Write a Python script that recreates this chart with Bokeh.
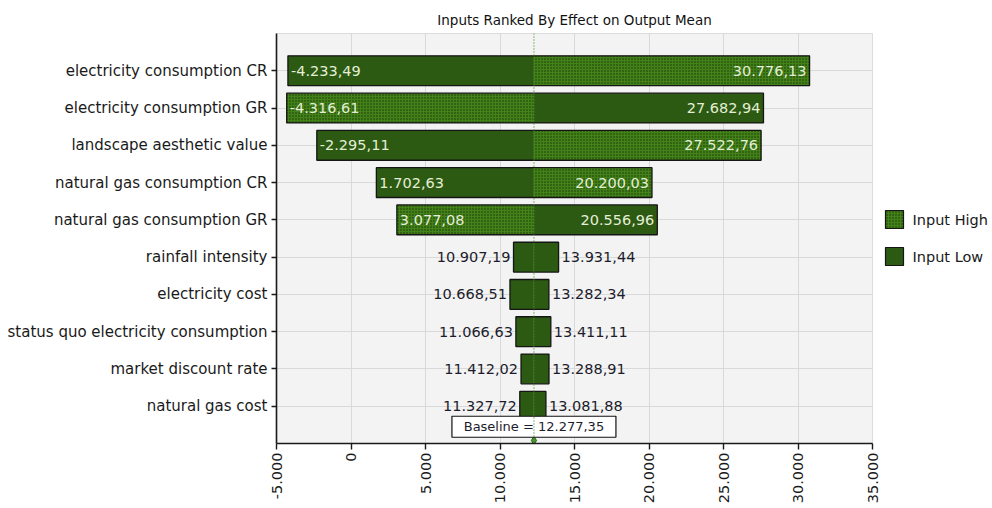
import math
from bokeh.plotting import figure
from bokeh.layouts import row
from bokeh.models import Range1d, FixedTicker, Span, ColumnDataSource
from bokeh.core.properties import value
from bokeh.embed import file_html
from bokeh.resources import INLINE

# ---------------- data ----------------
chart_title = "Inputs Ranked By Effect on Output Mean"
inputs = [
    "electricity consumption CR",
    "electricity consumption GR",
    "landscape aesthetic value",
    "natural gas consumption CR",
    "natural gas consumption GR",
    "rainfall intensity",
    "electricity cost",
    "status quo electricity consumption",
    "market discount rate",
    "natural gas cost",
]
left_values = [-4233.49, -4316.61, -2295.11, 1702.63, 3077.08,
               10907.19, 10668.51, 11066.63, 11412.02, 11327.72]
right_values = [30776.13, 27682.94, 27522.76, 20200.03, 20556.96,
                13931.44, 13282.34, 13411.11, 13288.91, 13081.88]
# which input setting produced each end of the bar
left_series = ["Input Low", "Input High", "Input Low", "Input Low", "Input High",
               "Input Low", "Input Low", "Input Low", "Input Low", "Input Low"]
right_series = ["Input High", "Input Low", "Input High", "Input High", "Input Low",
                "Input Low", "Input Low", "Input Low", "Input Low", "Input Low"]
baseline = 12277.35
x_ticks = [-5000, 0, 5000, 10000, 15000, 20000, 25000, 30000, 35000]
x_tick_labels = ["-5.000", "0", "5.000", "10.000", "15.000", "20.000", "25.000", "30.000", "35.000"]
legend_labels = ["Input High", "Input Low"]

# ---------------- style ----------------
FONT = "DejaVu Sans"
SOLID = "#2c5a12"
HATCH_BG = "#428219"
HATCH_FG = "#16330a"
OUTLINE = "#151515"
BAR_H = 0.8
H = 508
TOP, BOTTOM = 33, 65


def fmt(v):
    s = f"{v:,.2f}"
    return s.replace(",", "X").replace(".", ",").replace("X", ".")


ys = [i + 1 for i in range(len(inputs))]

p = figure(width=882, height=H, output_backend="svg", toolbar_location=None,
           x_range=Range1d(x_ticks[0], x_ticks[-1]),
           y_range=Range1d(len(inputs) + 1, 0),
           min_border_left=276, min_border_right=10, min_border_top=TOP, min_border_bottom=BOTTOM)

p.title.text = chart_title
p.title.align = "center"
p.title.text_font = FONT
p.title.text_font_size = "13.5px"
p.title.text_font_style = "normal"
p.title.text_color = "#111111"
p.title.text_line_height = 1.0
p.title.standoff = 12

p.background_fill_color = "#f3f3f3"
p.border_fill_color = "white"
p.outline_line_color = "#dcdcdc"

# segments
seg = {k: dict(y=[], left=[], right=[]) for k in legend_labels}
for y, lo, hi, ls, rs in zip(ys, left_values, right_values, left_series, right_series):
    seg[ls]["y"].append(y); seg[ls]["left"].append(lo); seg[ls]["right"].append(baseline)
    seg[rs]["y"].append(y); seg[rs]["left"].append(baseline); seg[rs]["right"].append(hi)

hatch_kw = dict(fill_color=HATCH_BG, hatch_pattern="dot", hatch_color=HATCH_FG,
                hatch_scale=3, hatch_weight=1.9)
series_style = {"Input High": hatch_kw, "Input Low": dict(fill_color=SOLID)}
for name in legend_labels:
    p.hbar(source=ColumnDataSource(seg[name]), y="y", left="left", right="right",
           height=BAR_H, line_color=None, **series_style[name])

# baseline dotted line
p.add_layout(Span(location=baseline, dimension="height", line_color="#3f8f1f",
                  line_dash="1 2", line_width=1.2))

# outlines
p.hbar(y=ys, left=left_values, right=right_values, height=BAR_H,
       fill_color=None, line_color=OUTLINE, line_width=1.3)

# value labels
in_l = dict(x=[], y=[], t=[]); in_r = dict(x=[], y=[], t=[])
out_l = dict(x=[], y=[], t=[]); out_r = dict(x=[], y=[], t=[])
for y, lo, hi in zip(ys, left_values, right_values):
    inside = (hi - lo) > 10000
    a = in_l if inside else out_l
    b = in_r if inside else out_r
    a["x"].append(lo); a["y"].append(y); a["t"].append(fmt(lo))
    b["x"].append(hi); b["y"].append(y); b["t"].append(fmt(hi))

tkw = dict(text_font=value(FONT), text_font_size="14.5px", text_baseline="middle")
p.text(source=ColumnDataSource(in_l), x="x", y="y", text="t", text_align="left",
       x_offset=3, text_color="#e4eed6", **tkw)
p.text(source=ColumnDataSource(in_r), x="x", y="y", text="t", text_align="right",
       x_offset=-3, text_color="#e4eed6", **tkw)
p.text(source=ColumnDataSource(out_l), x="x", y="y", text="t", text_align="right",
       x_offset=-3, text_color="#1c1c2c", **tkw)
p.text(source=ColumnDataSource(out_r), x="x", y="y", text="t", text_align="left",
       x_offset=3, text_color="#1c1c2c", **tkw)

# baseline marker and label
p.scatter(x=[baseline], y=[len(inputs) + 0.92], marker="diamond", size=8,
          fill_color="#4a9a2a", line_color="#2a5a12")
p.rect(x=[baseline], y=[len(inputs) + 0.55], width=164, height=21,
       width_units="screen", height_units="screen",
       fill_color="white", line_color="#111111", line_width=1.2)
p.text(x=[baseline], y=[len(inputs) + 0.55], text=[f"Baseline = {fmt(baseline)}"],
       text_align="center", text_baseline="middle", text_font=value(FONT),
       text_font_size="13px", text_color="#1c1c2c")

# axes
p.xaxis.ticker = FixedTicker(ticks=x_ticks)
p.xaxis.major_label_overrides = {t: l for t, l in zip(x_ticks, x_tick_labels)}
p.xaxis.major_label_orientation = math.pi / 2
p.yaxis.ticker = FixedTicker(ticks=ys)
p.yaxis.major_label_overrides = {y: n for y, n in zip(ys, inputs)}
for ax in (p.xaxis[0], p.yaxis[0]):
    ax.major_label_text_font = FONT
    ax.major_label_text_color = "#1a1a1a"
    ax.axis_line_color = "#1a1a1a"
    ax.axis_line_width = 1.6
    ax.major_tick_line_color = "#1a1a1a"
    ax.major_tick_line_width = 1.4
    ax.major_tick_in = 0
    ax.minor_tick_line_color = None
p.xaxis.major_label_text_font_size = "14.5px"
p.yaxis.major_label_text_font_size = "15px"
p.xaxis.major_tick_out = 6
p.xaxis.major_label_standoff = 3
p.yaxis.major_tick_out = 5
p.yaxis.major_label_standoff = 4

p.xgrid.grid_line_color = "#d9d9d9"
p.ygrid.grid_line_color = "#d9d9d9"

# ---------------- legend panel (second small figure, pixel coordinates) ----------------
# the row aligns this figure's frame with the chart frame, so the y range spans that frame
LW = 992 - 882
lg = figure(width=LW, height=H, output_backend="svg", toolbar_location=None,
            x_range=Range1d(0, LW), y_range=Range1d(H - BOTTOM, TOP),
            x_axis_type=None, y_axis_type=None,
            min_border_left=0, min_border_right=0, min_border_top=TOP, min_border_bottom=BOTTOM)
lg.outline_line_color = None
lg.grid.visible = False
lg.background_fill_color = "white"
lg.border_fill_color = "white"
leg_y0, leg_step = 219, 37
for i, name in enumerate(legend_labels):
    yy = leg_y0 + i * leg_step
    lg.rect(x=[12], y=[yy], width=18, height=18, width_units="screen", height_units="screen",
            line_color=OUTLINE, line_width=1.2, **series_style[name])
    lg.text(x=[30], y=[yy], text=[name], text_align="left", text_baseline="middle",
            text_font=value(FONT), text_font_size="14.5px", text_color="#1a1a1a")

layout = row(p, lg, spacing=0)
open("out.html", "w").write(file_html(layout, INLINE))
